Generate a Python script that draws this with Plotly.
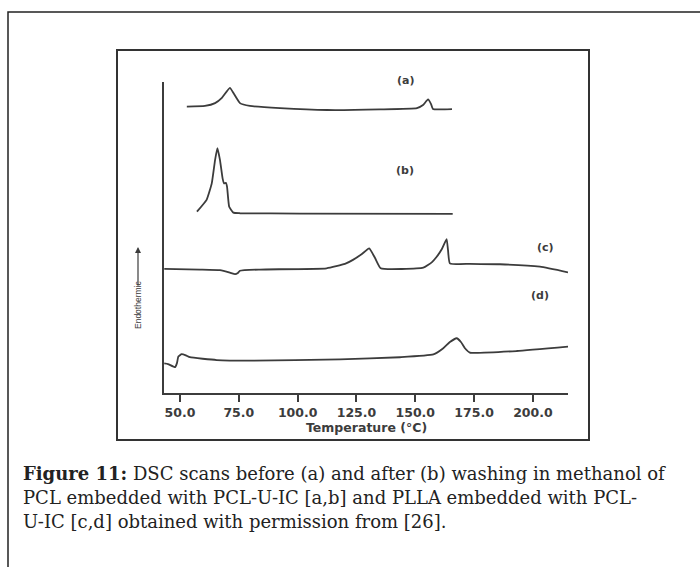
import plotly.graph_objects as go

# DSC thermograms: temperature (deg C) vs. heat flow (arbitrary units, offset per trace)
temp_a = [52.9, 60.6, 64.9, 67.8, 71.2, 72.9, 75.5, 79.7, 92.5, 112.5, 135.0, 150.7, 153.3, 155.4, 156.7, 157.5, 165.6]
flow_a = [9.21, 9.23, 9.32, 9.49, 9.81, 9.62, 9.32, 9.23, 9.16, 9.10, 9.12, 9.16, 9.26, 9.44, 9.29, 9.13, 9.13]

temp_b = [57.2, 61.3, 63.5, 64.9, 65.9, 67.0, 68.1, 68.7, 69.5, 70.0, 70.9, 72.7, 75.5, 101.0, 165.9]
flow_b = [5.83, 6.21, 6.74, 7.49, 7.87, 7.49, 6.90, 6.74, 6.76, 6.63, 5.99, 5.80, 5.78, 5.77, 5.76]

temp_c = [43.3, 58.5, 67.0, 71.2, 73.4, 74.6, 75.5, 84.0, 112.3, 120.1, 123.5, 127.3, 130.4, 132.9, 135.3,
          153.4, 157.1, 159.1, 161.3, 163.3, 163.9, 164.7, 173.2, 186.0, 203.0, 214.9]
flow_c = [3.99, 3.97, 3.95, 3.87, 3.82, 3.86, 3.93, 3.97, 4.01, 4.15, 4.28, 4.47, 4.65, 4.34, 4.01,
          4.03, 4.21, 4.38, 4.63, 4.95, 4.60, 4.17, 4.15, 4.14, 4.06, 3.88]

temp_d = [43.3, 44.9, 47.9, 48.7, 49.3, 50.7, 52.5, 54.2, 65.6, 79.7, 118.0, 143.5, 157.7, 161.9, 164.7,
          167.6, 169.4, 171.1, 173.2, 193.1, 214.9]
flow_d = [0.95, 0.93, 0.83, 0.96, 1.17, 1.25, 1.21, 1.15, 1.06, 1.04, 1.08, 1.15, 1.24, 1.44, 1.64,
          1.76, 1.64, 1.44, 1.30, 1.35, 1.49]

curve_names = ["(a)", "(b)", "(c)", "(d)"]
label_temp = [145.8, 145.6, 205.4, 203.0]
label_flow = [10.04, 7.15, 4.68, 3.12]

tick_vals = [50, 75, 100, 125, 150, 175, 200]
tick_text = ["50.0", "75.0", "100.0", "125.0", "150.0", "175.0", "200.0"]

caption_lines = [
    "<b>Figure 11:</b> DSC scans before (a) and after (b) washing in methanol of",
    "PCL embedded with PCL-U-IC [a,b] and PLLA embedded with PCL-",
    "U-IC [c,d] obtained with permission from [26].",
]

INK = "#3c3c3c"
WIDE = "DejaVu Sans, Verdana, sans-serif"
SERIF = "DejaVu Serif, Georgia, serif"

X_RANGE = [43.2, 214.9]
Y_RANGE = [0, 10]

fig = go.Figure()
for t, f in [(temp_a, flow_a), (temp_b, flow_b), (temp_c, flow_c), (temp_d, flow_d)]:
    fig.add_trace(go.Scatter(x=t, y=f, mode="lines",
                             line=dict(color=INK, width=1.8, shape="spline", smoothing=0.4),
                             hoverinfo="skip", showlegend=False))

# plot area: x 164..568 px, y 82..393 px
L, R, T, B = 164, 568, 82, 393
W, H = R - L, B - T


def px(x):
    return (x - L) / W


def py(y):
    return (B - y) / H


def to_paper_x(t):
    return (t - X_RANGE[0]) / (X_RANGE[1] - X_RANGE[0])


def to_paper_y(f):
    return (f - Y_RANGE[0]) / (Y_RANGE[1] - Y_RANGE[0])


# curve labels (paper refs so the top one is not hidden above the axis range)
for name, tx, fy in zip(curve_names, label_temp, label_flow):
    fig.add_annotation(x=to_paper_x(tx), y=to_paper_y(fy), xref="paper", yref="paper",
                       text="<b>" + name + "</b>", xanchor="center", yanchor="middle",
                       showarrow=False, font=dict(family=WIDE, size=11, color=INK))

# axis title
fig.add_annotation(x=px(366), y=py(427), xref="paper", yref="paper", text="<b>Temperature (°C)</b>",
                   xanchor="center", yanchor="middle",
                   showarrow=False, font=dict(family=WIDE, size=12.5, color=INK))

# y label with upward arrow
fig.add_annotation(x=px(138), y=py(305), xref="paper", yref="paper", text="Endothermic",
                   textangle=-90, xanchor="center", yanchor="middle", showarrow=False,
                   font=dict(family="Liberation Sans Narrow, Liberation Sans, Arial", size=8.5, color=INK))
fig.add_annotation(x=px(138), y=py(247), xref="paper", yref="paper", text="",
                   showarrow=True, ax=0, ay=40, arrowhead=2, arrowsize=1, arrowwidth=1.2,
                   arrowcolor=INK)

# figure frame (inner) and page box (outer)
fig.add_shape(type="rect", xref="paper", yref="paper", x0=px(117), x1=px(589), y0=py(440), y1=py(50),
              line=dict(color="#333333", width=2))
fig.add_shape(type="rect", xref="paper", yref="paper", x0=px(8), x1=px(712), y0=py(590), y1=py(12),
              line=dict(color="#222222", width=1.5))

for i, line in enumerate(caption_lines):
    fig.add_annotation(x=px(21), y=py(473 + 24 * i), xref="paper", yref="paper", text=line,
                       xanchor="left", yanchor="middle", showarrow=False, align="left",
                       font=dict(family=SERIF, size=18, color="#222222"))

fig.update_xaxes(range=X_RANGE, tickvals=tick_vals, ticktext=["<b>" + s + "</b>" for s in tick_text],
                 showline=True, linecolor=INK, linewidth=1.6, mirror=False,
                 ticks="outside", ticklen=7, tickwidth=1.5, tickcolor=INK,
                 tickfont=dict(family=WIDE, size=12.5, color=INK),
                 showgrid=False, zeroline=False)
fig.update_yaxes(range=Y_RANGE, showline=True, linecolor=INK, linewidth=1.6,
                 showticklabels=False, ticks="", showgrid=False, zeroline=False)

fig.update_layout(width=700, height=567, margin=dict(l=L, r=700 - R, t=T, b=567 - B),
                  paper_bgcolor="white", plot_bgcolor="white")

fig.write_html("out.html")
